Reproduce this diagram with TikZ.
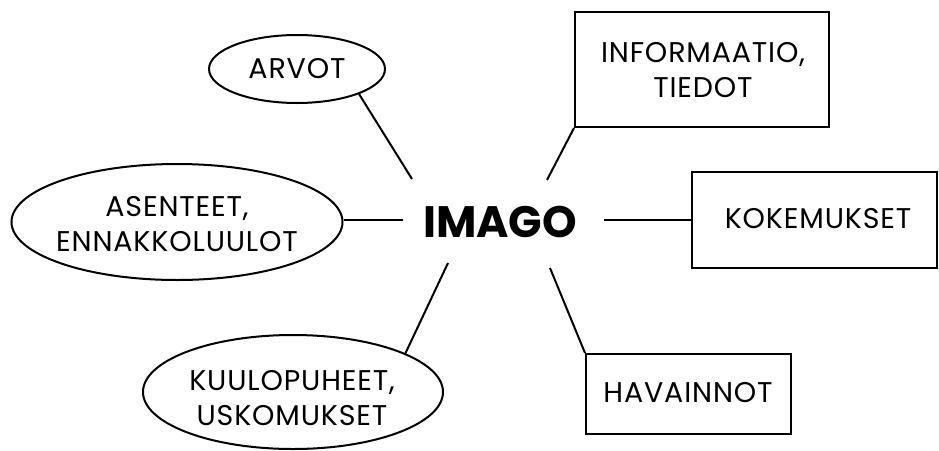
\documentclass[tikz,border=0pt]{standalone}
\usepackage{fontspec}
\setmainfont{Poppins}
\newfontfamily\widefont[LetterSpace=3]{Poppins}
\usetikzlibrary{shapes.geometric}
\begin{document}
\begin{tikzpicture}[x=1pt,y=-1pt,
  lbl/.style={font=\widefont\fontsize{28.5}{35.5}\selectfont, align=center, inner sep=0pt},
  oval/.style={draw, ellipse, line width=2pt, inner sep=0pt},
  box/.style={draw, rectangle, line width=2pt, inner sep=0pt},
  link/.style={line width=2pt}]
\useasboundingbox (0,0) rectangle (939,450);
% central node
\node[font=\fontsize{44}{44}\selectfont\bfseries, inner sep=0pt] (imago) at (500,222) {IMAGO};
% shapes
\node[oval, minimum width=176, minimum height=68] (arvot) at (297,69) {};
\node[oval, minimum width=331, minimum height=116] (asent) at (177,222) {};
\node[oval, minimum width=300, minimum height=114] (kuulo) at (293,392) {};
\node[box, minimum width=254, minimum height=115] (info) at (702,69.5) {};
\node[box, minimum width=245, minimum height=96] (koke) at (814,220) {};
\node[box, minimum width=205, minimum height=80] (hav) at (688.5,394) {};
% texts
\node[lbl] (t-arvot) at (297,69) {ARVOT};
\node[lbl] (t-asent) at (177,224) {ASENTEET,\\ENNAKKOLUULOT};
\node[lbl] (t-kuulo) at (292,398) {KUULOPUHEET,\\USKOMUKSET};
\node[lbl] (t-info) at (703,70) {INFORMAATIO,\\TIEDOT};
\node[lbl] (t-koke) at (818,219) {KOKEMUKSET};
\node[lbl] (t-hav) at (688,393) {HAVAINNOT};
% connector start points near IMAGO
\coordinate (c-arvot) at (412,179);
\coordinate (c-info) at (547,180);
\coordinate (c-asent) at (403,220);
\coordinate (c-koke) at (604,220);
\coordinate (c-hav) at (550,268);
\coordinate (c-kuulo) at (448,263);
% connectors
\draw[link] (c-arvot) -- (arvot.-22);
\draw[link] (c-info) -- (info.south west);
\draw[link] (c-asent) -- (asent.east |- c-asent);
\draw[link] (c-koke) -- (koke.west |- c-koke);
\draw[link] (c-hav) -- (hav.north west);
\draw[link] (c-kuulo) -- (kuulo.19);
\end{tikzpicture}
\end{document}
